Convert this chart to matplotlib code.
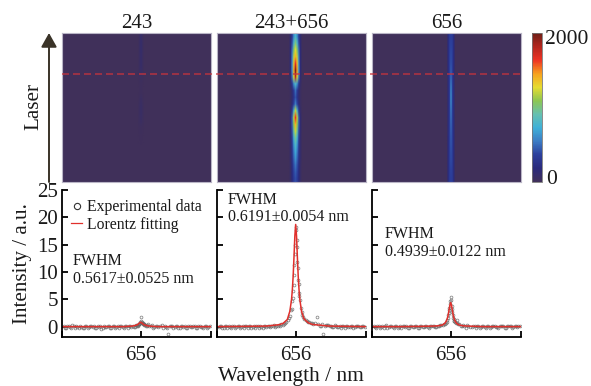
import matplotlib
matplotlib.use('Agg')
import matplotlib.pyplot as plt
from matplotlib.colors import LinearSegmentedColormap
from matplotlib.lines import Line2D
from matplotlib.patches import FancyArrowPatch
import numpy as np

W, H = 591, 386

titles = ['243', '243+656', '656']
fwhm = ['0.5617\u00b10.0525 nm', '0.6191\u00b10.0054 nm', '0.4939\u00b10.0122 nm']
yticks = [0, 5, 10, 15, 20, 25]

# wavelength of the measured points
wl = [646.8, 647.1, 647.4, 647.7, 648.0, 648.3, 648.6, 648.9, 649.2, 649.5,
      649.8, 650.1, 650.4, 650.7, 651.0, 651.3, 651.6, 651.9, 652.2, 652.5,
      652.8, 653.1, 653.4, 653.7, 654.0, 654.3, 654.6, 654.9, 655.1, 655.3,
      655.5, 655.6, 655.7, 655.8, 655.9, 656.0, 656.1, 656.2, 656.3, 656.4,
      656.5, 656.7, 656.9, 657.2, 657.5, 657.8, 658.1, 658.5, 658.7, 659.0,
      659.3, 659.6, 659.9, 660.2, 660.5, 660.8, 661.1, 661.4, 661.7, 662.0,
      662.3, 662.6, 662.9, 663.2, 663.5, 663.8, 664.1]

exp_243 = [0.1, -0.2, 0.2, -0.3, 0.1, 0.2, -0.2, 0.0, -0.3, 0.2,
           -0.1, 0.1, 0.2, -0.2, 0.0, -0.4, 0.2, -0.1, 0.1, -0.2,
           0.2, 0.0, -0.2, 0.1, -0.3, 0.1, 0.2, -0.1, 0.1, 0.0,
           0.2, 0.3, 0.2, 0.5, 0.6, 1.7, 0.9, 0.7, 0.5, 0.4,
           0.3, 0.2, 0.4, 0.1, -0.2, 0.2, -0.1, 0.3, -0.2, 0.0,
           -1.3, 0.2, -0.2, 0.1, -0.3, 0.2, 0.0, -0.2, 0.2, -0.1,
           0.1, -0.2, 0.2, 0.0, -0.2, 0.1, -0.1]
exp_both = [-0.1, 0.2, -0.2, 0.1, 0.2, -0.3, 0.1, -0.1, 0.2, 0.0,
            -0.2, 0.2, 0.1, -0.2, 0.1, 0.2, -0.2, 0.0, 0.1, -0.1,
            0.2, 0.1, 0.3, 0.1, 0.3, 0.4, 0.5, 0.9, 1.2, 1.9,
            3.3, 4.6, 6.5, 9.4, 13.2, 18.2, 15.8, 11.8, 8.6, 6.2,
            4.9, 2.7, 1.8, 1.2, 0.9, 0.6, 0.5, 1.7, 0.4, 0.2,
            -1.3, 0.3, 0.3, 0.2, -0.1, 0.2, 0.0, -0.2, 0.2, 0.1,
            -0.1, 0.2, -0.2, 0.1, 0.2, -0.1, 0.1]
exp_656 = [0.1, -0.2, 0.2, 0.0, -0.2, 0.3, -0.1, 0.1, -0.3, 0.2,
           0.0, -0.2, 0.2, 0.1, -0.2, 0.1, -0.1, 0.2, -0.3, 0.1,
           0.0, 0.2, -0.2, 0.1, 0.2, -0.1, 0.2, 0.3, 0.3, 0.5,
           0.9, 1.3, 2.1, 3.0, 4.1, 5.4, 3.7, 2.6, 1.6, 1.1,
           0.8, 1.3, 0.5, 0.2, 0.3, -0.2, 0.2, -0.1, 0.1, -0.2,
           0.2, 0.0, 0.2, -0.2, 0.1, -0.1, 0.2, 0.0, -0.2, 0.2,
           0.1, -0.2, 0.1, 0.2, -0.1, 0.1, 0.2]

# second run of points, in between the first ones
wl_b = [646.95, 647.25, 647.55, 647.85, 648.15, 648.45, 648.75, 649.05, 649.35, 649.65,
        649.95, 650.25, 650.55, 650.85, 651.15, 651.45, 651.75, 652.05, 652.35, 652.65,
        652.95, 653.25, 653.55, 653.85, 654.15, 654.45, 654.75, 655.2, 655.45, 655.65,
        655.75, 655.85, 655.95, 656.05, 656.15, 656.25, 656.35, 656.45, 656.6, 656.8,
        657.05, 657.35, 657.65, 657.95, 658.25, 658.85, 659.15, 659.45, 659.75, 660.05,
        660.35, 660.65, 660.95, 661.25, 661.55, 661.85, 662.15, 662.45, 662.75, 663.05,
        663.35, 663.65, 663.95, 664.25]
exp_243_b = [-0.2, 0.1, -0.1, 0.3, -0.2, 0.0, 0.2, -0.3, 0.1, -0.2,
             0.2, -0.1, -0.3, 0.2, 0.1, -0.2, 0.0, 0.2, -0.3, 0.1,
             -0.2, 0.2, 0.1, -0.1, 0.2, -0.2, 0.1, 0.0, 0.3, 0.3,
             0.4, 0.4, 0.9, 1.0, 0.6, 0.6, 0.3, 0.4, 0.2, 0.3,
             0.1, 0.3, -0.1, 0.2, 0.1, 0.2, -0.2, 0.1, 0.2, -0.1,
             0.2, -0.2, 0.1, 0.2, -0.2, 0.1, -0.1, 0.2, -0.2, 0.1,
             -0.1, 0.2, -0.2, 0.1]
exp_both_b = [0.2, -0.2, 0.1, -0.2, 0.0, 0.2, -0.2, 0.1, -0.3, 0.2,
              0.1, -0.2, 0.2, 0.0, -0.2, 0.1, 0.2, -0.2, 0.2, 0.1,
              -0.1, 0.2, 0.0, 0.2, 0.2, 0.3, 0.6, 1.5, 3.0, 5.2,
              7.6, 11.2, 15.0, 17.6, 14.6, 10.8, 7.8, 5.6, 3.4, 2.2,
              1.4, 1.1, 0.8, 0.7, 0.6, 0.2, 0.4, 0.1, 0.3, 0.2,
              0.0, 0.3, -0.1, 0.2, 0.1, -0.2, 0.2, 0.0, 0.2, -0.1,
              0.2, 0.0, 0.2, -0.1]
exp_656_b = [-0.1, 0.2, -0.2, 0.2, 0.1, -0.2, 0.2, 0.0, 0.1, -0.2,
             0.2, 0.1, -0.1, -0.2, 0.2, 0.0, 0.1, -0.2, 0.2, -0.1,
             0.2, 0.0, 0.1, 0.2, -0.1, 0.2, 0.3, 0.4, 0.7, 1.6,
             2.5, 3.4, 4.6, 4.8, 3.2, 2.2, 1.4, 1.0, 0.6, 0.7,
             0.4, 0.2, 0.1, 0.3, -0.1, 0.2, 0.1, -0.2, 0.2, 0.0,
             0.2, -0.2, 0.1, 0.2, -0.1, 0.1, 0.2, -0.2, 0.1, 0.2,
             -0.2, 0.2, 0.0, 0.2]

# fitted curves
fit_wl = [646.6, 650.0, 652.5, 654.0, 654.5, 655.0, 655.3, 655.5, 655.6, 655.7,
          655.8, 655.9, 656.0, 656.1, 656.2, 656.3, 656.4, 656.5, 656.7, 657.0,
          657.5, 658.0, 660.0, 664.4]
fit_243 = [0.0, 0.0, 0.0, 0.0, 0.05, 0.1, 0.2, 0.3, 0.35, 0.45,
           0.6, 0.7, 0.8, 0.7, 0.6, 0.45, 0.35, 0.3, 0.2, 0.1,
           0.05, 0.0, 0.0, 0.0]
fit_both = [0.0, 0.05, 0.1, 0.35, 0.6, 1.3, 2.8, 4.9, 6.7, 9.3,
            12.8, 16.6, 18.7, 16.6, 12.8, 9.3, 6.7, 4.9, 2.8, 1.4,
            0.7, 0.4, 0.1, 0.0]
fit_656 = [0.0, 0.0, 0.05, 0.1, 0.15, 0.3, 0.6, 1.1, 1.5, 2.1,
           3.0, 3.9, 4.4, 3.9, 3.0, 2.1, 1.5, 1.1, 0.6, 0.3,
           0.15, 0.1, 0.0, 0.0]

# camera counts around the line, one row per laser step (top to bottom)
heat_243 = [[0, 20, 50, 90, 50, 20, 0],
            [0, 20, 60, 100, 60, 20, 0],
            [0, 20, 60, 100, 60, 20, 0],
            [0, 20, 50, 90, 50, 20, 0],
            [0, 20, 50, 90, 50, 20, 0],
            [0, 20, 40, 70, 40, 20, 0],
            [0, 10, 20, 30, 20, 10, 0],
            [0, 0, 10, 20, 10, 0, 0],
            [0, 0, 10, 20, 10, 0, 0],
            [0, 10, 30, 50, 30, 10, 0],
            [0, 20, 40, 70, 40, 20, 0],
            [0, 20, 40, 70, 40, 20, 0],
            [0, 20, 30, 60, 30, 20, 0],
            [0, 10, 10, 20, 10, 10, 0],
            [0, 0, 10, 10, 10, 0, 0],
            [0, 0, 0, 10, 0, 0, 0]]
heat_both = [[0, 120, 320, 620, 760, 620, 320, 120, 0],
             [0, 140, 400, 800, 1000, 800, 400, 140, 0],
             [0, 150, 500, 1050, 1250, 1050, 500, 150, 0],
             [0, 150, 560, 1200, 1400, 1200, 560, 150, 0],
             [0, 150, 600, 1350, 1650, 1350, 600, 150, 0],
             [0, 150, 620, 1450, 1950, 1450, 620, 150, 0],
             [0, 120, 500, 1250, 1800, 1250, 500, 120, 0],
             [0, 80, 280, 620, 800, 620, 280, 80, 0],
             [0, 40, 130, 330, 500, 330, 130, 40, 0],
             [0, 40, 110, 280, 420, 280, 110, 40, 0],
             [0, 50, 150, 380, 550, 380, 150, 50, 0],
             [0, 80, 320, 820, 1200, 820, 320, 80, 0],
             [0, 120, 450, 1200, 1650, 1200, 450, 120, 0],
             [0, 120, 450, 1100, 1400, 1100, 450, 120, 0],
             [0, 110, 400, 950, 1200, 950, 400, 110, 0],
             [0, 100, 340, 760, 950, 760, 340, 100, 0],
             [0, 90, 290, 640, 800, 640, 290, 90, 0],
             [0, 90, 260, 540, 700, 540, 260, 90, 0],
             [0, 90, 240, 480, 620, 480, 240, 90, 0],
             [0, 70, 210, 420, 520, 420, 210, 70, 0],
             [0, 70, 190, 380, 450, 380, 190, 70, 0],
             [0, 70, 180, 340, 400, 340, 180, 70, 0]]
heat_656 = [[0, 180, 320, 360, 320, 180, 0],
            [0, 180, 330, 380, 330, 180, 0],
            [0, 180, 340, 400, 340, 180, 0],
            [0, 180, 340, 420, 340, 180, 0],
            [0, 170, 340, 460, 340, 170, 0],
            [0, 160, 340, 520, 340, 160, 0],
            [0, 150, 340, 600, 340, 150, 0],
            [0, 150, 340, 640, 340, 150, 0],
            [0, 150, 340, 620, 340, 150, 0],
            [0, 150, 340, 560, 340, 150, 0],
            [0, 160, 340, 520, 340, 160, 0],
            [0, 160, 340, 490, 340, 160, 0],
            [0, 170, 340, 460, 340, 170, 0],
            [0, 170, 340, 440, 340, 170, 0],
            [0, 170, 330, 420, 330, 170, 0],
            [0, 170, 330, 400, 330, 170, 0],
            [0, 170, 320, 380, 320, 170, 0],
            [0, 170, 320, 360, 320, 170, 0]]

jet = ['#40305a', '#2a2a7c', '#2c3f9c', '#3c7cc4', '#3fb0d8', '#66c0b0', '#8cc652',
       '#e6dc30', '#f7a11e', '#ee3324', '#b3261e', '#6e1f17']
cmap = LinearSegmentedColormap.from_list('spec', jet)


def fig_box(x0, y0, x1, y1):
    # pixel box of the picture to figure fractions
    return [x0 / W, 1 - y1 / H, (x1 - x0) / W, (y1 - y0) / H]


def put(x, y, s, size, **kw):
    fig.text(x / W, 1 - y / H, s, fontsize=size, va='center', color='#1a1a1a', **kw)


plt.rcParams['font.family'] = ['Liberation Serif', 'DejaVu Serif']
fig = plt.figure(figsize=(W / 100, H / 100), dpi=100)

lefts = [62, 217, 372]
heats = [heat_243, heat_both, heat_656]
heat_x = [(655.6, 656.5), (655.13, 656.83), (655.45, 656.6)]
heat_low = [0.25, 0, 0]
exps = [exp_243, exp_both, exp_656]
exps_b = [exp_243_b, exp_both_b, exp_656_b]
fits = [fit_243, fit_both, fit_656]
text_pos = [(73, 261, 279), (228, 200, 217), (385, 234, 252)]

for i in range(3):
    x0 = lefts[i]
    # map panel
    ax = fig.add_axes(fig_box(x0, 33, x0 + 149, 182))
    ax.set_facecolor(jet[0])
    im = ax.imshow(np.array(heats[i]), cmap=cmap, vmin=0, vmax=2000, aspect='auto',
                   interpolation='bilinear',
                   extent=[heat_x[i][0], heat_x[i][1], heat_low[i], 1])
    ax.set_xlim(646.6, 664.4)
    ax.set_ylim(0, 1)
    ax.set_xticks([])
    ax.set_yticks([])
    for s in ax.spines.values():
        s.set_color('#b9b5c6')
        s.set_linewidth(0.8)
    ax.set_title(titles[i], fontsize=15, pad=-1.5, color='#1a1a1a')

    # spectrum panel
    ax2 = fig.add_axes(fig_box(x0, 190, x0 + 149, 337))
    ax2.plot(wl, exps[i], 'o', ms=2, mfc='none', mec='#666666', mew=0.6, alpha=0.75)
    ax2.plot(wl_b, exps_b[i], 'o', ms=2, mfc='none', mec='#666666', mew=0.6, alpha=0.75)
    ax2.plot(fit_wl, fits[i], '-', color='#e0302c', lw=1.1)
    ax2.set_xlim(646.6, 664.4)
    ax2.set_ylim(-1.9, 25)
    ax2.set_yticks(yticks)
    ax2.set_xticks([646.6, 656, 664.4])
    ax2.set_xticklabels(['', '656', ''], fontsize=15, color='#1a1a1a')
    ax2.tick_params(direction='in', length=4.5, width=1.3, labelsize=15, labelcolor='#1a1a1a')
    ax2.tick_params(axis='x', pad=6.5)
    ax2.tick_params(axis='y', pad=3)
    if i > 0:
        ax2.tick_params(axis='y', labelleft=False)
    ax2.spines['top'].set_visible(False)
    ax2.spines['right'].set_visible(False)
    ax2.spines['left'].set_linewidth(1.3)
    ax2.spines['bottom'].set_linewidth(1.3)
    if i == 0:
        ax2.set_ylabel('Intensity / a.u.', fontsize=15.2, labelpad=3.5, color='#1a1a1a')
        handles = [Line2D([], [], ls='none', marker='o', ms=4.5, mfc='none', mec='#333333', mew=0.8),
                   Line2D([], [], color='#e0302c', lw=0.9)]
        ax2.legend(handles, ['Experimental data', 'Lorentz fitting'], frameon=False, fontsize=11.3,
                   loc='upper left', bbox_to_anchor=(0.0, 1.0), handlelength=0.7, handletextpad=0.3,
                   labelspacing=0.08, borderaxespad=0.2, labelcolor='#1a1a1a')
    put(text_pos[i][0], text_pos[i][1], 'FWHM', 11.5)
    put(text_pos[i][0], text_pos[i][2], fwhm[i], 11.5)

# colour bar
cax = fig.add_axes(fig_box(532, 33, 542, 182))
cb = fig.colorbar(im, cax=cax, ticks=[])
cb.outline.set_edgecolor('#777777')
cb.outline.set_linewidth(0.6)
put(545, 39, '2000', 15.5)
put(546, 180, '0', 15.5)

# laser marker: dashed line across the maps and the arrow
fig.add_artist(Line2D([62 / W, 521 / W], [1 - 73.5 / H, 1 - 73.5 / H], color='#c8343c',
                      lw=1.1, dashes=(4.6, 2.6), alpha=0.85))
fig.add_artist(FancyArrowPatch((49 / W, 1 - 182 / H), (49 / W, 1 - 33 / H),
                               transform=fig.transFigure, arrowstyle='-|>,head_length=0.5,head_width=0.28',
                               mutation_scale=17, lw=1.4, color='#3a3328', shrinkA=0, shrinkB=0))
fig.text(34 / W, 1 - 106 / H, 'Laser', rotation=90, fontsize=15.2, ha='center', va='center', color='#1a1a1a')
fig.text(291 / W, 1 - 377 / H, 'Wavelength / nm', fontsize=15.4, ha='center', va='center', color='#1a1a1a')

fig.savefig('out.png', dpi=100)
